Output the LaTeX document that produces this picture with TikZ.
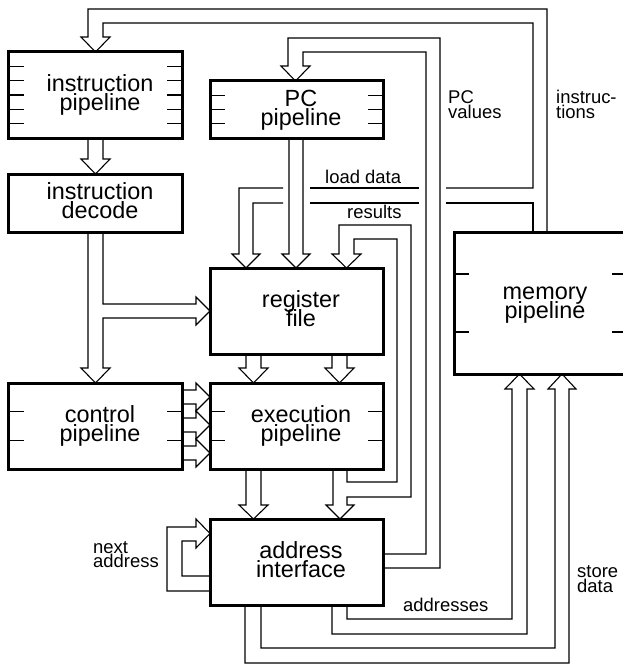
\documentclass[tikz,border=0pt]{standalone}
\usepackage{fontspec}
\setmainfont{Liberation Sans}
\newcommand\bigf{\fontsize{23.5}{19}\selectfont\lineskiplimit=-100pt\lineskip=0pt\relax}
\newcommand\smallf{\fontsize{18.5}{15}\selectfont\lineskiplimit=-100pt\lineskip=0pt\relax}
\newcommand\ph{\vphantom{fp}}
\newcommand\bx[2]{\hskip9bp\ph #1\\\hskip9bp #2\ph}
\newcommand\twoline[2]{\vtop{\hbox{#1}\hbox{#2}}}
\begin{document}
\begin{tikzpicture}[x=1bp,y=-1bp,
  box/.style={draw, line width=3bp, fill=white, minimum width=173bp, minimum height=86bp,
    inner sep=0pt, outer sep=0pt, align=center, font=\bigf},
  wire/.style={line width=1.1bp, line join=miter},
  tick/.style={line width=1.1bp},
  lbl/.style={font=\smallf, inner sep=0pt, anchor=base west}]
\useasboundingbox (0,0) rectangle (623,665);

% ---------- fat connectors ----------
% instruction pipeline -> instruction decode
\draw[wire] (88,138) -- (88,159) -- (81,159) -- (95.5,174) -- (110,159) -- (103,159) -- (103,138);
% instructions (memory -> instruction pipeline) with load data branch
\draw[wire] (547,232) -- (547,9) -- (88,9) -- (88,37) -- (81,37) -- (95.5,52) -- (110,37) -- (103,37)
  -- (103,23) -- (533,23) -- (533,188) -- (446,188);
\draw[wire] (419,188) -- (310,188);
\draw[wire] (283,188) -- (239,188) -- (239,254) -- (232,254) -- (246,268) -- (260,254) -- (253,254)
  -- (253,203) -- (283,203);
\draw[wire] (310,203) -- (419,203);
\draw[wire] (446,203) -- (533,203) -- (533,232);
% PC pipeline -> register file
\draw[wire] (289,138) -- (289,254) -- (282,254) -- (296,268) -- (310,254) -- (303,254) -- (303,138);
% PC values (address interface -> PC pipeline)
\draw[wire] (383,554) -- (426,554) -- (426,52) -- (303,52) -- (303,66) -- (310,66) -- (295.5,81)
  -- (281,66) -- (288,66) -- (288,38) -- (440,38) -- (440,568) -- (383,568);
% instruction decode -> control pipeline and register file
\draw[wire] (88,232) -- (88,368) -- (81,368) -- (95.5,383) -- (110,368) -- (103,368) -- (103,318)
  -- (196,318) -- (196,325) -- (210,311) -- (196,297) -- (196,304) -- (103,304) -- (103,232);
% register file -> execution pipeline
\draw[wire] (246,354) -- (246,368) -- (239,368) -- (253.5,383) -- (268,368) -- (261,368) -- (261,354);
\draw[wire] (332,354) -- (332,368) -- (325,368) -- (339.5,383) -- (354,368) -- (347,368) -- (347,354);
% execution pipeline -> address interface
\draw[wire] (246,469) -- (246,505) -- (239,505) -- (253.5,519) -- (268,505) -- (261,505) -- (261,469);
% execution -> address interface, with results branch to register file
\draw[wire] (333,469) -- (333,505) -- (326,505) -- (340,519) -- (354,505) -- (347,505) -- (347,497)
  -- (411,497) -- (411,225) -- (339,225) -- (339,254) -- (332,254) -- (346.5,268) -- (361,254)
  -- (354,254) -- (354,239) -- (397,239) -- (397,482) -- (347,482) -- (347,469);
% control pipeline -> execution pipeline
\foreach \c in {397,425,453}
  \draw[wire] (182,{\c-7}) -- (196,{\c-7}) -- (196,{\c-14}) -- (210,\c) -- (196,{\c+14})
    -- (196,{\c+7}) -- (182,{\c+7});
% next address loop
\draw[wire] (210,591) -- (167,591) -- (167,527) -- (196,527) -- (196,519) -- (210,533.5) -- (196,548)
  -- (196,541) -- (182,541) -- (182,576) -- (210,576);
% addresses
\draw[wire] (347,605) -- (347,619) -- (512,619) -- (512,389) -- (505,389) -- (519.5,374) -- (534,389)
  -- (527,389) -- (527,634) -- (332,634) -- (332,605);
% store data
\draw[wire] (261,605) -- (261,648) -- (555,648) -- (555,389) -- (548,389) -- (562,374) -- (576,389)
  -- (569,389) -- (569,663) -- (245,663) -- (245,605);

% ---------- boxes ----------
\node[box] (ip) at (95.5,95) {\bx{instruction}{pipeline}};
\node[box, minimum height=58bp] (id) at (95.5,203) {\bx{instruction}{decode}};
\node[box, minimum height=57bp] (pc) at (296.5,109.5) {\bx{PC}{pipeline}};
\node[box] (rf) at (296.5,311) {\bx{register}{file}};
\node[box] (ex) at (296.5,426) {\bx{execution}{pipeline}};
\node[box] (cp) at (95.5,426) {\bx{control}{pipeline}};
\node[box] (ai) at (296.5,562) {\bx{address}{interface}};
\node[box, minimum height=142bp] (mp) at (540.5,303) {\bx{memory}{pipeline}};

% ---------- stage ticks ----------
\foreach \y in {66.3,80.7,95,109.3,123.7} {
  \draw[tick] (9,\y) -- (24,\y); \draw[tick] (167,\y) -- (182,\y); }
\foreach \y in {95.3,109.5,123.7} {
  \draw[tick] (210,\y) -- (225,\y); \draw[tick] (368,\y) -- (383,\y); }
\foreach \y in {411.7,440.3} {
  \draw[tick] (9,\y) -- (24,\y); \draw[tick] (167,\y) -- (182,\y);
  \draw[tick] (210,\y) -- (225,\y); \draw[tick] (368,\y) -- (383,\y); }
\foreach \y in {274,332} {
  \draw[tick] (454,\y) -- (469,\y); \draw[tick] (612,\y) -- (627,\y); }

% ---------- labels ----------
\node[lbl] (ld) at (325,183) {load data};
\node[lbl] (rs) at (347,218) {results};
\node[lbl] (pv) at (448,104) {\twoline{PC}{values}};
\node[lbl] (it) at (556,104) {\twoline{instruc-}{tions}};
\node[lbl] (na) at (93,553) {\twoline{next}{address}};
\node[lbl] (ad) at (403,611) {addresses};
\node[lbl] (sd) at (577,577.5) {\twoline{store}{data}};
\end{tikzpicture}
\end{document}
